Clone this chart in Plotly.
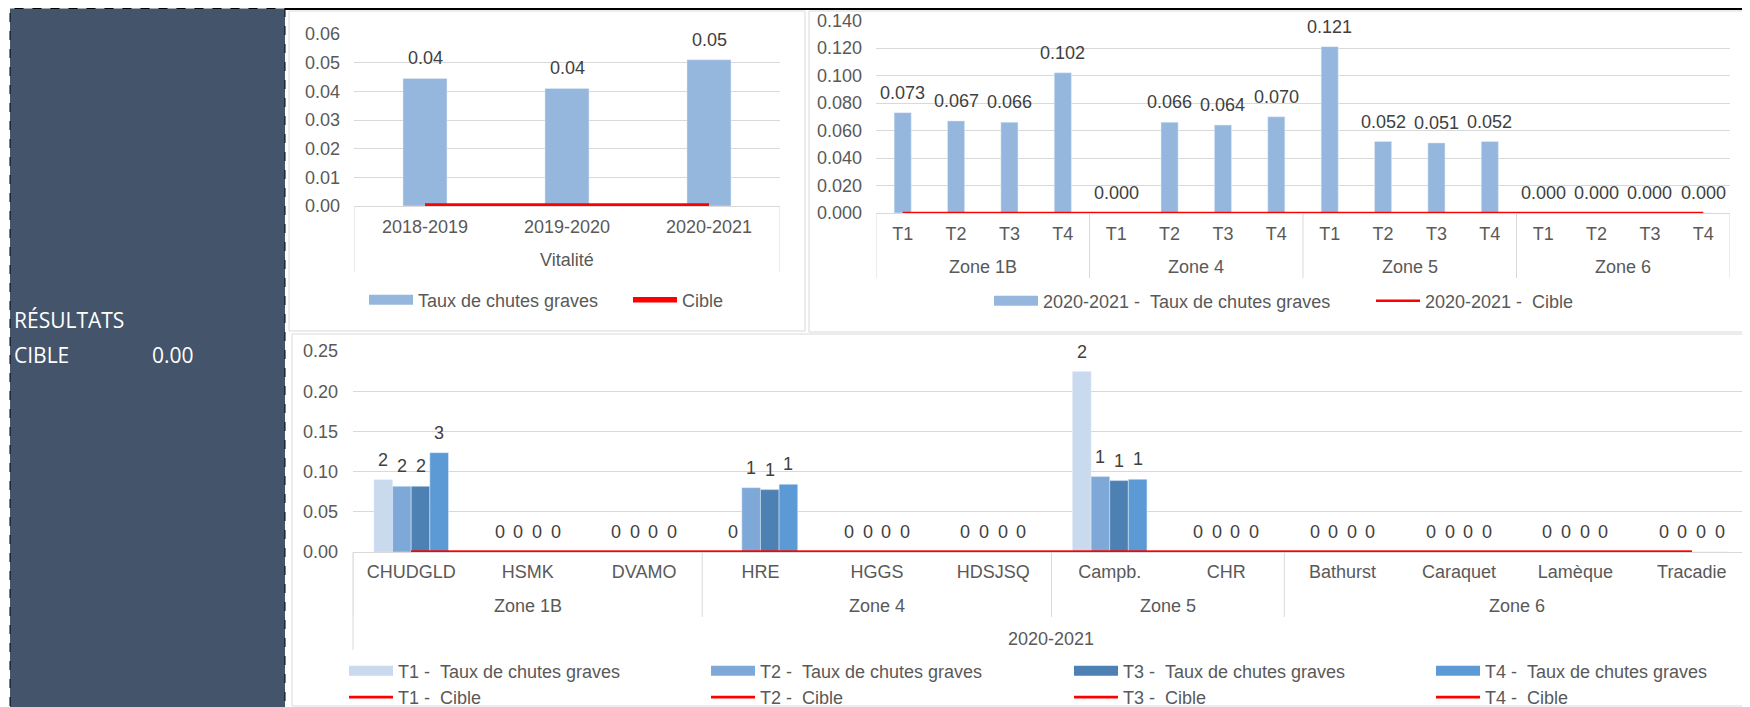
import plotly.graph_objects as go

# --- data -------------------------------------------------------------
seasons = ["2018-2019", "2019-2020", "2020-2021"]
season_rate = [0.0445, 0.041, 0.051]
season_cible = [0.0, 0.0, 0.0]

zone_names = ["Zone 1B", "Zone 4", "Zone 5", "Zone 6"]
quarters = ["T1", "T2", "T3", "T4"]
zone_rate = [0.073, 0.067, 0.066, 0.102,
             0.000, 0.066, 0.064, 0.070,
             0.121, 0.052, 0.051, 0.052,
             0.000, 0.000, 0.000, 0.000]
zone_cible = [0.0, 0.0, 0.0, 0.0, 0.0, 0.0, 0.0, 0.0,
              0.0, 0.0, 0.0, 0.0, 0.0, 0.0, 0.0, 0.0]

sites = ["CHUDGLD", "HSMK", "DVAMO", "HRE", "HGGS", "HDSJSQ",
         "Campb.", "CHR", "Bathurst", "Caraquet", "Lamèque", "Tracadie"]
site_zone = ["Zone 1B", "Zone 1B", "Zone 1B", "Zone 4", "Zone 4", "Zone 4",
             "Zone 5", "Zone 5", "Zone 6", "Zone 6", "Zone 6", "Zone 6"]
site_rate = {
    "T1": [0.090, 0, 0, 0, 0, 0, 0.2245, 0, 0, 0, 0, 0],
    "T2": [0.0817, 0, 0, 0.080, 0, 0, 0.0938, 0, 0, 0, 0, 0],
    "T3": [0.0817, 0, 0, 0.0776, 0, 0, 0.0888, 0, 0, 0, 0, 0],
    "T4": [0.1236, 0, 0, 0.0842, 0, 0, 0.0904, 0, 0, 0, 0, 0],
}
site_count = {
    "T1": [2, 0, 0, 0, 0, 0, 2, 0, 0, 0, 0, 0],
    "T2": [2, 0, 0, 1, 0, 0, 1, 0, 0, 0, 0, 0],
    "T3": [2, 0, 0, 1, 0, 0, 1, 0, 0, 0, 0, 0],
    "T4": [3, 0, 0, 1, 0, 0, 1, 0, 0, 0, 0, 0],
}
site_cible = [0.0, 0.0, 0.0, 0.0, 0.0, 0.0, 0.0, 0.0, 0.0, 0.0, 0.0, 0.0]

# the page body keeps its default 8px margin, so the figure is drawn 8px smaller
# and every position below is given in page pixels
OFF = 8
W, H = 1750 - OFF, 707 - OFF
FONT = "Liberation Sans, Arial, sans-serif"
GRID = "#D9D9D9"
AXIS_TXT = "#595959"
LABEL_TXT = "#404040"
RED = "#FF0000"
BAR_MAIN = "#95B7DE"
T_COLORS = {"T1": "#C9D9EE", "T2": "#7EA8D8", "T3": "#4D81B3", "T4": "#5B9AD5"}
BAR_OFFSETS = {"T1": -0.32, "T2": -0.16, "T3": 0.0, "T4": 0.16}


def px(x):
    return (x - OFF) / W


def py(y):
    return 1 - (y - OFF) / H


def legend_swatch(name, color, legend):
    # legend entry drawn as a wide flat swatch, like the Excel legend key
    return go.Scatter(x=[None], y=[None], mode="lines", name=name,
                      line=dict(color=color, width=10), legend=legend,
                      showlegend=True, hoverinfo="skip")


fig = go.Figure()
annotations = []
shapes = []

# chart 1 : vitalité by season
fig.add_trace(go.Bar(x=seasons, y=season_rate, width=0.31, marker_color=BAR_MAIN,
                     showlegend=False, xaxis="x", yaxis="y"))
fig.add_trace(legend_swatch("Taux de chutes graves", BAR_MAIN, "legend"))
fig.add_trace(go.Scatter(x=seasons, y=season_cible, mode="lines", name="Cible",
                         line=dict(color=RED, width=5.5),
                         xaxis="x", yaxis="y", legend="legend2"))
for s, v in zip(seasons, season_rate):
    annotations.append(dict(x=s, y=v, xref="x", yref="y", text=f"{v:.2f}"))

# chart 2 : zones by quarter
zone_ids = [f"{z} {q}" for z in zone_names for q in quarters]
fig.add_trace(go.Bar(x=zone_ids, y=zone_rate, width=0.32, marker_color=BAR_MAIN,
                     showlegend=False, xaxis="x2", yaxis="y2"))
fig.add_trace(legend_swatch("2020-2021 - \u00a0Taux de chutes graves", BAR_MAIN, "legend3"))
fig.add_trace(go.Scatter(x=zone_ids, y=zone_cible, mode="lines",
                         name="2020-2021 - \u00a0Cible",
                         line=dict(color=RED, width=2.5),
                         xaxis="x2", yaxis="y2", legend="legend4"))
for zid, v in zip(zone_ids, zone_rate):
    annotations.append(dict(x=zid, y=v, xref="x2", yref="y2", text=f"{v:.3f}"))

# chart 3 : sites by quarter
for i, q in enumerate(quarters):
    fig.add_trace(go.Bar(x=sites, y=site_rate[q], marker_color=T_COLORS[q],
                         width=0.16, offset=BAR_OFFSETS[q], showlegend=False,
                         xaxis="x3", yaxis="y3"))
    fig.add_trace(legend_swatch(f"{q} - \u00a0Taux de chutes graves", T_COLORS[q],
                                f"legend{5 + i}"))
    fig.add_trace(go.Scatter(x=sites, y=site_cible, mode="lines",
                             name=f"{q} - \u00a0Cible",
                             line=dict(color=RED, width=2.7),
                             xaxis="x3", yaxis="y3", legend=f"legend{5 + i}"))
    for j, (c, v) in enumerate(zip(site_count[q], site_rate[q])):
        annotations.append(dict(x=j + BAR_OFFSETS[q] + 0.08, y=v, xref="x3", yref="y3",
                                text=str(c)))

for a in annotations:
    a.update(showarrow=False, yanchor="middle", yshift=20,
             font=dict(size=18, color=LABEL_TXT))


def group_spans(groups):
    spans = []
    start = 0
    for i in range(1, len(groups) + 1):
        if i == len(groups) or groups[i] != groups[start]:
            spans.append((groups[start], start, i - 1))
            start = i
    return spans


def add_groups(xref, groups, y_label, y_axis, y_div):
    # second level of category labels, with the dividers between groups
    spans = group_spans(groups)
    for name, a, b in spans:
        annotations.append(dict(x=(a + b) / 2, y=py(y_label), xref=xref, yref="paper",
                                text=name, showarrow=False, yanchor="middle",
                                font=dict(size=18, color=AXIS_TXT)))
        shapes.append(dict(type="line", xref=xref, yref="paper", x0=a - 0.5, x1=a - 0.5,
                           y0=py(y_axis), y1=py(y_div), line=dict(color=GRID, width=1)))
    last = spans[-1][2] + 0.5
    shapes.append(dict(type="line", xref=xref, yref="paper", x0=last, x1=last,
                       y0=py(y_axis), y1=py(y_div), line=dict(color=GRID, width=1)))


add_groups("x", ["Vitalité"] * len(seasons), 260, 206, 272)
add_groups("x2", [z for z in zone_names for _ in quarters], 267, 213, 278)
add_groups("x3", site_zone, 606, 552, 617)
# third level of chart 3 (season)
shapes.append(dict(type="line", xref="paper", yref="paper", x0=px(353), x1=px(353),
                   y0=py(552), y1=py(650), line=dict(color=GRID, width=1)))
annotations.append(dict(text="2020-2021", x=px(1051), y=py(639), xref="paper", yref="paper",
                        showarrow=False, xanchor="center", yanchor="middle",
                        font=dict(size=18, color=AXIS_TXT)))

xcommon = dict(type="category", showline=True, linecolor=GRID, linewidth=1,
               showgrid=False, zeroline=False, ticks="", automargin=False,
               tickfont=dict(size=18, color=AXIS_TXT))
ycommon = dict(showgrid=True, gridcolor=GRID, gridwidth=1, zeroline=False,
               showline=False, ticks="", automargin=False,
               tickfont=dict(size=18, color=AXIS_TXT))

fig.update_layout(
    xaxis=dict(xcommon, domain=[px(354), px(780)], anchor="y", ticklabelstandoff=4,
               range=[-0.5, len(seasons) - 0.5]),
    yaxis=dict(ycommon, domain=[py(206), py(34)], range=[0, 0.06], dtick=0.01,
               tickformat=".2f", anchor="x", ticklabelstandoff=13),
    xaxis2=dict(xcommon, domain=[px(876), px(1730)], anchor="y2", ticklabelstandoff=4,
                tickmode="array", tickvals=zone_ids, ticktext=quarters * len(zone_names),
                range=[-0.5, len(zone_ids) - 0.5]),
    yaxis2=dict(ycommon, domain=[py(213), py(20.5)], range=[0, 0.14], dtick=0.02,
                tickformat=".3f", anchor="x2", ticklabelstandoff=13),
    xaxis3=dict(xcommon, domain=[px(353), 1.0], anchor="y3", ticklabelstandoff=3,
                range=[-0.5, len(sites) - 0.5]),
    yaxis3=dict(ycommon, domain=[py(552), py(351)], range=[0, 0.25], dtick=0.05,
                tickformat=".2f", anchor="x3", ticklabelstandoff=14),
)

leg = dict(xanchor="left", yanchor="middle", bgcolor="rgba(0,0,0,0)",
           font=dict(size=18, color=AXIS_TXT, family=FONT), itemwidth=44,
           orientation="v", tracegroupgap=0, itemclick=False)
legend_pos = {
    "legend": (364, 300), "legend2": (628, 300),
    "legend3": (989, 301), "legend4": (1371, 301),
    "legend5": (344, 684), "legend6": (706, 684),
    "legend7": (1069, 684), "legend8": (1431, 684),
}
fig.update_layout(**{k: dict(leg, x=px(x), y=py(y)) for k, (x, y) in legend_pos.items()})

shapes += [
    # left panel
    dict(type="rect", xref="paper", yref="paper", x0=px(10), x1=px(285), y0=-0.01, y1=py(8.5),
         fillcolor="#44546A", line=dict(color="black", width=1, dash="dash"), layer="below"),
    dict(type="line", xref="paper", yref="paper", x0=px(285), x1=1, y0=py(9), y1=py(9),
         line=dict(color="black", width=2)),
    # chart frames
    dict(type="rect", xref="paper", yref="paper", x0=px(289), x1=px(805), y0=py(331), y1=py(11),
         line=dict(color=GRID, width=1), layer="below"),
    dict(type="rect", xref="paper", yref="paper", x0=px(809), x1=px(1760), y0=py(332), y1=py(11),
         line=dict(color=GRID, width=1), layer="below"),
    dict(type="rect", xref="paper", yref="paper", x0=px(292), x1=px(1760), y0=py(706), y1=py(334),
         line=dict(color=GRID, width=1), layer="below"),
]

for text, x, y in [("RÉSULTATS", 12, 320), ("CIBLE", 12, 355), ("0.00", 150, 355)]:
    annotations.append(dict(text=text, x=px(x), y=py(y), xref="paper", yref="paper",
                            showarrow=False, xanchor="left", yanchor="middle",
                            font=dict(family="Open Sans", size=21, color="white")))

fig.update_layout(
    shapes=shapes, annotations=annotations, showlegend=True,
    width=W, height=H, margin=dict(l=0, r=0, t=0, b=0, autoexpand=False),
    paper_bgcolor="white", plot_bgcolor="rgba(0,0,0,0)",
    barmode="overlay",
    font=dict(family=FONT, size=18, color=AXIS_TXT),
)

fig.write_html("out.html")
